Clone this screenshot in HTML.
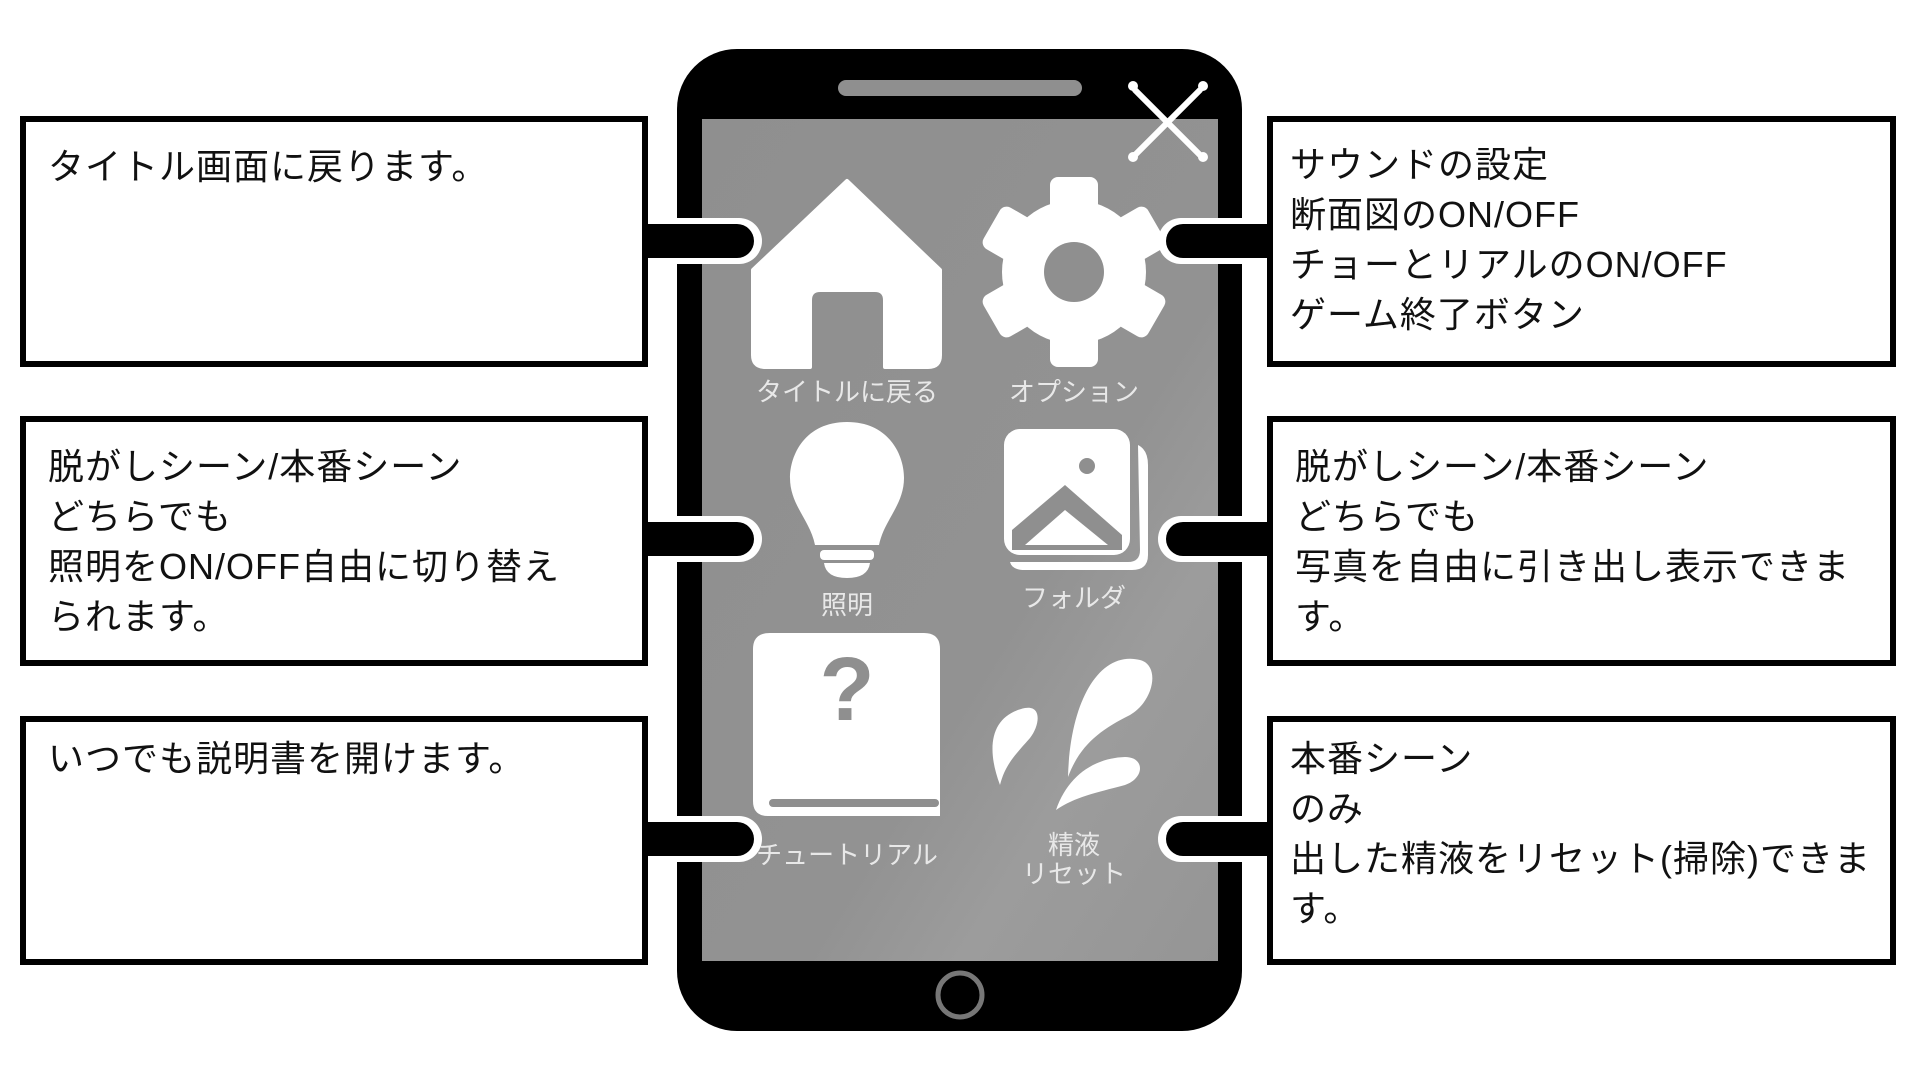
<!DOCTYPE html>
<html><head><meta charset="utf-8"><style>
html,body{margin:0;padding:0;background:#fff;}
body{width:1920px;height:1080px;overflow:hidden;position:relative;font-family:"Liberation Sans","Noto Sans CJK JP",sans-serif;}
.box{position:absolute;border:6px solid #000;background:#fff;box-sizing:border-box;}
.t{position:absolute;font-size:36px;line-height:50px;color:#111;white-space:nowrap;letter-spacing:1px;}
</style></head><body>
<svg width="1920" height="1080" style="position:absolute;left:0;top:0">
<defs><linearGradient id="g" x1="0" y1="0" x2="1" y2="1"><stop offset="0" stop-color="#8f8f8f"/><stop offset="0.6" stop-color="#929292"/><stop offset="0.75" stop-color="#9c9c9c"/><stop offset="1" stop-color="#959595"/></linearGradient></defs>
<rect x="677" y="49" width="565" height="982" rx="60" fill="#000"/>
<rect x="702" y="119" width="516" height="842" fill="url(#g)"/>
<rect x="838" y="80" width="244" height="16" rx="8" fill="#8f8f8f"/>
<circle cx="960" cy="995" r="22" fill="none" stroke="#777" stroke-width="5"/>
<g stroke="#fff" stroke-width="6" stroke-linecap="round">
<line x1="1135" y1="90" x2="1200" y2="155"/><line x1="1200" y1="90" x2="1135" y2="155"/></g>
<g fill="#fff"><circle cx="1133" cy="86" r="5"/><circle cx="1203" cy="86" r="5"/><circle cx="1133" cy="157" r="5"/><circle cx="1203" cy="157" r="5"/></g>
<path d="M847 181 L940 270 L940 355 Q940 367 928 367 L885 367 L885 300 Q885 290 875 290 L820 290 Q810 290 810 300 L810 367 L766 367 Q753 367 753 355 L753 270 Z" fill="#fff" stroke="#fff" stroke-width="4" stroke-linejoin="round"/>
<g transform="translate(1074,272)" fill="#fff">
<circle r="72"/>
<g id="tooth"><rect x="-24" y="-95" width="48" height="40" rx="8"/></g>
<use href="#tooth" transform="rotate(60)"/><use href="#tooth" transform="rotate(120)"/><use href="#tooth" transform="rotate(180)"/><use href="#tooth" transform="rotate(240)"/><use href="#tooth" transform="rotate(300)"/>
<circle r="30" fill="#8f8f8f"/>
</g>
<path d="M847 422 C805 422 790 455 790 478 C790 505 810 520 815 545 L879 545 C884 520 904 505 904 478 C904 455 889 422 847 422 Z" fill="#fff"/>
<rect x="820" y="550" width="54" height="10" rx="4" fill="#fff"/>
<path d="M824 563 L870 563 Q868 578 847 578 Q826 578 824 563Z" fill="#fff"/>
<rect x="1004" y="429" width="126" height="126" rx="16" fill="#fff"/>
<path d="M1138 445 Q1148 450 1148 465 L1148 555 Q1148 570 1132 570 L1025 570 Q1012 570 1010 562 L1128 562 Q1140 562 1140 550 Z" fill="#fff"/>
<circle cx="1087" cy="466" r="8" fill="#8f8f8f"/>
<path d="M1012 530 L1065 485 L1122 535 L1122 550 L1012 550 Z" fill="#8f8f8f"/>
<path d="M1025 545 L1065 510 L1108 545 Z" fill="#fff"/>
<!-- book -->
<path d="M770 633 L924 633 Q940 633 940 649 L940 816 L768 816 Q753 816 753 801 L753 649 Q753 633 770 633 Z" fill="#fff"/>
<path d="M773 803 L935 803" stroke="#8f8f8f" stroke-width="8" stroke-linecap="round"/>
<text x="847" y="720" font-size="90" font-weight="bold" fill="#8f8f8f" text-anchor="middle" font-family="Liberation Sans, sans-serif">?</text>
<!-- splash -->
<g fill="#fff">
<path d="M1000 785 C985 745 992 715 1025 708 C1042 705 1040 725 1030 738 C1015 755 1005 765 1000 785Z"/>
<path d="M1068 777 C1070 700 1100 650 1140 660 C1160 665 1155 700 1130 715 C1100 730 1080 745 1068 777Z"/>
<path d="M1056 810 C1068 775 1095 758 1125 757 C1145 757 1145 778 1125 785 C1095 793 1075 797 1056 810Z"/>
</g>
<g fill="#e8e8e8" font-size="26" text-anchor="middle" font-family="Liberation Sans, Noto Sans CJK JP, sans-serif">
<text x="847" y="401">タイトルに戻る</text>
<text x="1074" y="401">オプション</text>
<text x="847" y="614">照明</text>
<text x="1074" y="607">フォルダ</text>
<text x="847" y="864">チュートリアル</text>
<text x="1074" y="854">精液</text>
<text x="1074" y="883">リセット</text>
</g>
<g>
<g id="lc"><rect x="640" y="218" width="122" height="46" rx="23" fill="#fff"/><rect x="640" y="224" width="114" height="34" rx="17" fill="#000"/><rect x="640" y="224" width="40" height="34" fill="#000"/></g>
<use href="#lc" transform="translate(0,298)"/>
<use href="#lc" transform="translate(0,598)"/>
<g id="rc"><rect x="1158" y="218" width="122" height="46" rx="23" fill="#fff"/><rect x="1166" y="224" width="114" height="34" rx="17" fill="#000"/><rect x="1240" y="224" width="40" height="34" fill="#000"/></g>
<use href="#rc" transform="translate(0,298)"/>
<use href="#rc" transform="translate(0,598)"/>
</g>
</svg>
<div class="box" style="left:20px;top:116px;width:628px;height:251px"></div>
<div class="box" style="left:20px;top:416px;width:628px;height:250px"></div>
<div class="box" style="left:20px;top:716px;width:628px;height:249px"></div>
<div class="box" style="left:1267px;top:116px;width:629px;height:251px"></div>
<div class="box" style="left:1267px;top:416px;width:629px;height:250px"></div>
<div class="box" style="left:1267px;top:716px;width:629px;height:249px"></div>
<div class="t" style="left:48px;top:142px">タイトル画面に戻ります。</div>
<div class="t" style="left:48px;top:442px">脱がしシーン/本番シーン<br>どちらでも<br>照明をON/OFF自由に切り替え<br>られます。</div>
<div class="t" style="left:48px;top:734px">いつでも説明書を開けます。</div>
<div class="t" style="left:1290px;top:140px">サウンドの設定<br>断面図のON/OFF<br>チョーとリアルのON/OFF<br>ゲーム終了ボタン</div>
<div class="t" style="left:1295px;top:442px">脱がしシーン/本番シーン<br>どちらでも<br>写真を自由に引き出し表示できま<br>す。</div>
<div class="t" style="left:1290px;top:734px">本番シーン<br>のみ<br>出した精液をリセット(掃除)できま<br>す。</div>
</body></html>
